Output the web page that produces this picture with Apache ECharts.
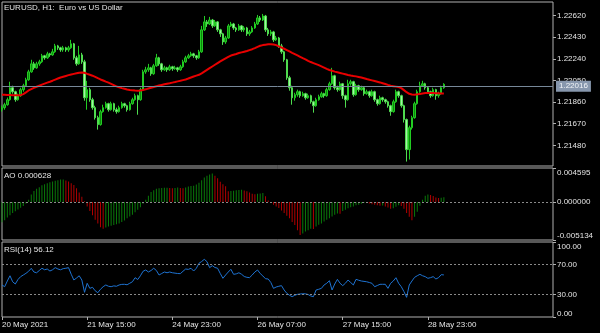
<!DOCTYPE html>
<html><head><meta charset="utf-8">
<script src="https://cdn.jsdelivr.net/npm/echarts@6/dist/echarts.min.js"></script>
<style>html,body{margin:0;padding:0;background:#000;}#c{width:600px;height:333px;}</style>
</head><body><div id="c"></div>
<script>
const symbolText = 'EURUSD, H1:  Euro vs US Dollar';
const opens = [
1.21793,1.21811,1.21837,1.21881,1.21986,1.21951,1.21881,1.21916,1.21969,1.22004,
1.22056,1.22126,1.22196,1.22161,1.22196,1.22214,1.22267,1.22249,1.22284,1.22275,
1.22302,1.22354,1.22337,1.22319,1.22337,1.22319,1.22337,1.22372,1.22249,1.22196,
1.22275,1.22214,1.21898,1.21969,1.21881,1.21811,1.21723,1.21662,1.21776,1.21811,
1.21846,1.21793,1.21846,1.21793,1.21776,1.21811,1.21846,1.21828,1.21793,1.21846,
1.21881,1.21916,1.21881,1.21969,1.22126,1.22144,1.22161,1.22109,1.22179,1.22249,
1.22196,1.22144,1.22161,1.22144,1.22170,1.22153,1.22161,1.22144,1.22170,1.22214,
1.22249,1.22267,1.22284,1.22267,1.22249,1.22302,1.22495,1.22565,1.22547,1.22582,
1.22530,1.22565,1.22495,1.22460,1.22389,1.22424,1.22530,1.22547,1.22512,1.22495,
1.22530,1.22495,1.22512,1.22460,1.22477,1.22512,1.22547,1.22600,1.22582,1.22617,
1.22495,1.22460,1.22477,1.22407,1.22424,1.22354,1.22302,1.22232,1.22074,1.21986,
1.21898,1.21925,1.21951,1.21916,1.21934,1.21898,1.21916,1.21863,1.21828,1.21881,
1.21907,1.21934,1.21916,1.21969,1.22021,1.22091,1.21986,1.21969,1.22021,1.21916,
1.21881,1.22021,1.22039,1.21925,1.22004,1.21969,1.21986,1.21934,1.21951,1.21916,
1.21951,1.21881,1.21846,1.21898,1.21881,1.21863,1.21828,1.21776,1.21863,1.21951,
1.21916,1.21828,1.21706,1.21442,1.21635,1.21723,1.21846,1.21951,1.22004,1.22021,
1.21986,1.21951,1.21916,1.21969,1.21916,1.21934,1.21986];
const highs = [
1.21830,1.21854,1.21900,1.22039,1.22004,1.21960,1.21934,1.21986,1.22021,1.22074,
1.22144,1.22232,1.22214,1.22214,1.22232,1.22284,1.22275,1.22302,1.22293,1.22328,
1.22372,1.22363,1.22346,1.22354,1.22346,1.22354,1.22407,1.22380,1.22267,1.22354,
1.22293,1.22232,1.22047,1.21986,1.21898,1.21828,1.21740,1.21793,1.21837,1.21863,
1.21854,1.21863,1.21854,1.21811,1.21828,1.21863,1.21854,1.21837,1.21863,1.21898,
1.21934,1.21925,1.21986,1.22144,1.22170,1.22196,1.22170,1.22196,1.22284,1.22258,
1.22205,1.22179,1.22170,1.22188,1.22179,1.22179,1.22170,1.22188,1.22232,1.22267,
1.22284,1.22302,1.22293,1.22275,1.22319,1.22530,1.22617,1.22582,1.22609,1.22591,
1.22582,1.22573,1.22504,1.22469,1.22442,1.22547,1.22565,1.22556,1.22521,1.22547,
1.22538,1.22528,1.22521,1.22495,1.22528,1.22565,1.22626,1.22617,1.22635,1.22626,
1.22512,1.22495,1.22486,1.22442,1.22433,1.22372,1.22311,1.22240,1.22091,1.22004,
1.21942,1.21969,1.21960,1.21951,1.21942,1.21934,1.21925,1.21872,1.21898,1.21925,
1.21951,1.21942,1.21986,1.22039,1.22161,1.22100,1.22004,1.22039,1.22028,1.21925,
1.22056,1.22056,1.22047,1.22021,1.22012,1.22004,1.21995,1.21969,1.21960,1.21969,
1.21960,1.21890,1.21916,1.21907,1.21890,1.21872,1.21837,1.21881,1.21969,1.21960,
1.21925,1.21837,1.21715,1.21653,1.21740,1.21863,1.21969,1.22039,1.22047,1.22030,
1.21995,1.21960,1.21986,1.21977,1.21951,1.22004,1.22026];
const lows = [
1.21776,1.21793,1.21828,1.21872,1.21934,1.21863,1.21872,1.21907,1.21951,1.21995,
1.22047,1.22118,1.22144,1.22153,1.22179,1.22205,1.22232,1.22240,1.22258,1.22267,
1.22293,1.22319,1.22302,1.22302,1.22302,1.22302,1.22328,1.22232,1.22179,1.22188,
1.22196,1.21872,1.21793,1.21863,1.21793,1.21706,1.21618,1.21653,1.21767,1.21802,
1.21776,1.21785,1.21776,1.21758,1.21767,1.21802,1.21811,1.21776,1.21785,1.21837,
1.21872,1.21749,1.21872,1.21960,1.22109,1.22126,1.22091,1.22100,1.22170,1.22179,
1.22126,1.22135,1.22126,1.22135,1.22135,1.22144,1.22126,1.22135,1.22161,1.22205,
1.22240,1.22258,1.22249,1.22232,1.22240,1.22293,1.22486,1.22521,1.22538,1.22512,
1.22521,1.22477,1.22433,1.22363,1.22372,1.22416,1.22521,1.22495,1.22477,1.22486,
1.22477,1.22477,1.22442,1.22442,1.22469,1.22504,1.22538,1.22565,1.22573,1.22477,
1.22442,1.22442,1.22389,1.22398,1.22337,1.22284,1.22214,1.22056,1.21960,1.21837,
1.21872,1.21907,1.21898,1.21907,1.21881,1.21889,1.21846,1.21767,1.21819,1.21872,
1.21898,1.21898,1.21907,1.21960,1.22012,1.21969,1.21951,1.21960,1.21889,1.21811,
1.21872,1.22004,1.21907,1.21916,1.21951,1.21960,1.21916,1.21925,1.21898,1.21907,
1.21863,1.21828,1.21837,1.21863,1.21846,1.21811,1.21740,1.21767,1.21854,1.21898,
1.21811,1.21680,1.21337,1.21355,1.21618,1.21714,1.21837,1.21942,1.21995,1.21969,
1.21934,1.21898,1.21907,1.21881,1.21898,1.21925,1.21977];
const closes = [
1.21811,1.21837,1.21881,1.21986,1.21951,1.21881,1.21916,1.21969,1.22004,1.22056,
1.22126,1.22196,1.22161,1.22196,1.22214,1.22267,1.22249,1.22284,1.22275,1.22302,
1.22354,1.22337,1.22319,1.22337,1.22319,1.22337,1.22372,1.22249,1.22196,1.22275,
1.22214,1.21898,1.21969,1.21881,1.21811,1.21723,1.21662,1.21776,1.21811,1.21846,
1.21793,1.21846,1.21793,1.21776,1.21811,1.21846,1.21828,1.21793,1.21846,1.21881,
1.21916,1.21881,1.21969,1.22126,1.22144,1.22161,1.22109,1.22179,1.22249,1.22196,
1.22144,1.22161,1.22144,1.22170,1.22153,1.22161,1.22144,1.22170,1.22214,1.22249,
1.22267,1.22284,1.22267,1.22249,1.22302,1.22495,1.22565,1.22547,1.22582,1.22530,
1.22565,1.22495,1.22460,1.22389,1.22424,1.22530,1.22547,1.22512,1.22495,1.22530,
1.22495,1.22512,1.22460,1.22477,1.22512,1.22547,1.22600,1.22582,1.22617,1.22495,
1.22460,1.22477,1.22407,1.22424,1.22354,1.22302,1.22232,1.22074,1.21986,1.21898,
1.21925,1.21951,1.21916,1.21934,1.21898,1.21916,1.21863,1.21828,1.21881,1.21907,
1.21934,1.21916,1.21969,1.22021,1.22091,1.21986,1.21969,1.22021,1.21916,1.21881,
1.22021,1.22039,1.21925,1.22004,1.21969,1.21986,1.21934,1.21951,1.21916,1.21951,
1.21881,1.21846,1.21898,1.21881,1.21863,1.21828,1.21776,1.21863,1.21951,1.21916,
1.21828,1.21706,1.21442,1.21635,1.21723,1.21846,1.21951,1.22004,1.22021,1.21986,
1.21951,1.21916,1.21969,1.21916,1.21934,1.21986,1.22016];
const maValues = [
1.21925,1.21924,1.21923,1.21922,1.21921,1.21920,1.21920,1.21921,1.21930,1.21945,
1.21962,1.21974,1.21985,1.21995,1.22004,1.22013,1.22022,1.22031,1.22039,1.22048,
1.22058,1.22067,1.22076,1.22083,1.22090,1.22097,1.22103,1.22108,1.22113,1.22118,
1.22120,1.22118,1.22108,1.22100,1.22092,1.22082,1.22070,1.22059,1.22050,1.22040,
1.22031,1.22020,1.22009,1.21998,1.21990,1.21983,1.21977,1.21970,1.21966,1.21963,
1.21961,1.21960,1.21962,1.21967,1.21972,1.21979,1.21986,1.21993,1.21999,1.22005,
1.22011,1.22017,1.22022,1.22026,1.22031,1.22036,1.22042,1.22047,1.22053,1.22059,
1.22067,1.22076,1.22085,1.22093,1.22100,1.22113,1.22128,1.22143,1.22158,1.22173,
1.22188,1.22203,1.22218,1.22232,1.22245,1.22258,1.22269,1.22276,1.22283,1.22291,
1.22297,1.22303,1.22309,1.22317,1.22325,1.22335,1.22346,1.22355,1.22361,1.22365,
1.22368,1.22369,1.22367,1.22361,1.22350,1.22340,1.22329,1.22317,1.22305,1.22293,
1.22282,1.22270,1.22258,1.22246,1.22235,1.22222,1.22212,1.22203,1.22194,1.22185,
1.22174,1.22163,1.22152,1.22142,1.22135,1.22128,1.22122,1.22116,1.22110,1.22104,
1.22098,1.22093,1.22089,1.22086,1.22081,1.22076,1.22070,1.22063,1.22057,1.22051,
1.22045,1.22039,1.22033,1.22026,1.22019,1.22011,1.22004,1.22000,1.21996,1.21992,
1.21983,1.21965,1.21947,1.21933,1.21927,1.21925,1.21928,1.21932,1.21936,1.21939,
1.21940,1.21940,1.21939,1.21938,1.21937,1.21936,1.21936];
const aoValues = [
-0.00275,-0.00245,-0.00210,-0.00180,-0.00150,-0.00125,-0.00100,-0.00078,-0.00055,-0.00020,
0.00030,0.00100,0.00150,0.00180,0.00200,0.00225,0.00240,0.00255,0.00267,0.00278,
0.00288,0.00295,0.00303,0.00305,0.00292,0.00278,0.00255,0.00230,0.00185,0.00130,
0.00070,0.00010,-0.00060,-0.00120,-0.00180,-0.00240,-0.00290,-0.00340,-0.00360,-0.00345,
-0.00330,-0.00320,-0.00310,-0.00300,-0.00290,-0.00270,-0.00250,-0.00220,-0.00195,-0.00173,
-0.00140,-0.00105,-0.00070,-0.00025,0.00030,0.00085,0.00135,0.00160,0.00180,0.00187,
0.00190,0.00192,0.00194,0.00190,0.00187,0.00190,0.00195,0.00190,0.00185,0.00195,
0.00210,0.00215,0.00220,0.00235,0.00260,0.00295,0.00330,0.00355,0.00372,0.00385,
0.00355,0.00320,0.00275,0.00240,0.00213,0.00145,0.00150,0.00152,0.00158,0.00162,
0.00167,0.00155,0.00145,0.00130,0.00113,0.00105,0.00110,0.00115,0.00120,0.00077,
0.00020,-0.00010,-0.00037,-0.00060,-0.00082,-0.00115,-0.00150,-0.00185,-0.00220,-0.00270,
-0.00310,-0.00380,-0.00445,-0.00425,-0.00400,-0.00380,-0.00360,-0.00365,-0.00330,-0.00309,
-0.00290,-0.00264,-0.00240,-0.00218,-0.00195,-0.00173,-0.00155,-0.00160,-0.00120,-0.00105,
-0.00085,-0.00072,-0.00060,-0.00045,-0.00037,-0.00025,-0.00014,-0.00012,-0.00020,-0.00030,
-0.00037,-0.00045,-0.00050,-0.00048,-0.00060,-0.00075,-0.00090,-0.00085,-0.00065,-0.00045,
-0.00055,-0.00090,-0.00150,-0.00200,-0.00245,-0.00200,-0.00130,-0.00050,0.00030,0.00085,
0.00100,0.00095,0.00080,0.00062,0.00055,0.00058,0.000628];
const rsiValues = [
42.7,40.4,48,55,47,44,50,53.8,56,58.2,
61,64.9,60,59,62,65,63,64,61.3,63,
65.8,64,63,64.5,65,65.8,57,49.3,52,55,
49.3,32.9,44.9,38.2,39.6,35,32.4,37,40.4,42.7,
41,40.4,41.5,41,42.7,43.5,43.6,43,45,47,
52.4,50,55,61,62.7,60,62,65,62,56,
58,60,59,60,59,58.5,58,57.8,61,64,
63.5,65,61.3,65,71.6,74,76.9,73.8,65.8,68.4,
66,65,58,51.6,56,60,63.6,56.9,57.5,59,
57,54,52.9,52.5,56,60,62.7,58,54.7,51,
50.7,46,38.2,40,41,41.8,36,31.6,29,27.1,
29,30.2,30.7,31,30.9,30,28,27.1,36,37,
38.2,42.7,45,48.4,36,44,50.2,45,41.8,45,
49.3,46,42.7,50.2,49,48,47.5,47,46,44.9,
40.4,42,43.6,43.6,43.6,38.2,44.9,48,52.4,45,
40.4,34,26.2,42.7,48,52.9,55,56.9,55,53.8,
51.6,52.5,53.8,50.7,52.4,56.4,56.12];
const priceTicks = [1.21480,1.21670,1.21860,1.22050,1.22240,1.22430,1.22620];
const aoTicks = [-0.005134,0,0.004595];
const rsiTicks = [0,30,70,100];
const rsiLevels = [30,70];
const timeLabelIndex = [0,32,64,96,128,160];
const timeLabels = ['20 May 2021','21 May 15:00','24 May 23:00','26 May 07:00','27 May 15:00','28 May 23:00'];
const lastPrice = 1.22016;
const totalSlots = 208;

const FONT = 'Liberation Sans';
const TXT = '#e4e4e4';
const FRAME = '#b0b0b0';
const cats = Array.from({length: totalSlots}, (_, i) => String(i));
const candleData = opens.map((o, i) => [o, closes[i], lows[i], highs[i]]);
const isTick = (i) => timeLabelIndex.indexOf(i) >= 0;

function xAxisFor(gi, show) {
  return {
    type: 'category', gridIndex: gi, data: cats, boundaryGap: false,
    axisLine: {show: false},
    axisTick: {show: show, interval: (i) => isTick(i), length: 3, lineStyle: {color: FRAME}},
    axisLabel: {show: show, interval: (i) => isTick(i), align: 'left', margin: 4,
      color: TXT, fontSize: 8, fontFamily: FONT,
      formatter: (v, i) => { const k = timeLabelIndex.indexOf(Number(v)); return k >= 0 ? timeLabels[k] : ''; }},
    splitLine: {show: false}
  };
}
function edgeLabel(fmt, lo, hi) {
  return (v) => {
    const s = fmt(v);
    if (Math.abs(v - hi) < 1e-9) return '{t|' + s + '}';
    if (Math.abs(v - lo) < 1e-9) return '{b|' + s + '}';
    return s;
  };
}
function yAxisFor(gi, min, max, ticks, fmt, padTop, padBot) {
  return {
    type: 'value', gridIndex: gi, position: 'right', min: min, max: max, scale: true,
    axisLine: {show: false},
    axisTick: {show: true, customValues: ticks, length: 3, lineStyle: {color: FRAME}},
    axisLabel: {customValues: ticks, margin: 4, color: TXT, fontSize: 8, fontFamily: FONT,
      formatter: edgeLabel(fmt, min, max),
      rich: {t: {padding: [padTop, 0, 0, 0], color: TXT, fontSize: 8, fontFamily: FONT},
             b: {padding: [0, 0, padBot, 0], color: TXT, fontSize: 8, fontFamily: FONT}}},
    splitLine: {show: false}
  };
}

const chart = echarts.init(document.getElementById('c'), null, {renderer: 'canvas'});
const gridBase = {left: 2, right: 47, show: true, borderColor: FRAME, borderWidth: 1, backgroundColor: 'transparent', outerBoundsMode: 'none', containLabel: false};
chart.setOption({
  animation: false,
  backgroundColor: '#000',
  grid: [
    Object.assign({top: 2, height: 164}, gridBase),
    Object.assign({top: 168, height: 72}, gridBase),
    Object.assign({top: 242, height: 75}, gridBase)
  ],
  xAxis: [xAxisFor(0, false), xAxisFor(1, false), xAxisFor(2, true)],
  yAxis: [
    yAxisFor(0, 1.21298, 1.22740, priceTicks, (v) => v.toFixed(5), 0, 0),
    yAxisFor(1, -0.005134, 0.004595, aoTicks, (v) => v.toFixed(6), 10, 8),
    yAxisFor(2, 0, 100, rsiTicks, (v) => v.toFixed(2), 9, 7)
  ],
  series: [
    {
      type: 'candlestick', xAxisIndex: 0, yAxisIndex: 0, data: candleData, barWidth: 2,
      itemStyle: {color: '#0c880c', color0: '#a6f2a6', borderColor: '#22cc22', borderColor0: '#4fdc4f', borderWidth: 1},
      markLine: {
        silent: true, symbol: 'none', animation: false,
        lineStyle: {color: '#778899', type: 'solid', width: 1},
        label: {show: true, position: 'end', distance: 3, formatter: lastPrice.toFixed(5),
          backgroundColor: '#8797ad', color: '#f2f5f8', padding: [2, 3, 1, 3], fontSize: 8, fontFamily: FONT},
        data: [{yAxis: lastPrice}]
      },
      z: 3
    },
    {
      type: 'line', xAxisIndex: 0, yAxisIndex: 0, data: maValues, showSymbol: false, symbol: 'none',
      lineStyle: {color: '#e80000', width: 2}, z: 4
    },
    {
      type: 'bar', xAxisIndex: 1, yAxisIndex: 1, data: aoValues, barWidth: 1,
      itemStyle: {color: (p) => (p.dataIndex === 0 || aoValues[p.dataIndex] >= aoValues[p.dataIndex - 1]) ? '#0a7a0a' : '#b00000'},
      markLine: {silent: true, symbol: 'none', animation: false, label: {show: false},
        lineStyle: {color: '#8a8a8a', type: [2, 2], width: 1}, data: [{yAxis: 0}]}
    },
    {
      type: 'line', xAxisIndex: 2, yAxisIndex: 2, data: rsiValues, showSymbol: false, symbol: 'none',
      lineStyle: {color: '#1e73d2', width: 1},
      markLine: {silent: true, symbol: 'none', animation: false, label: {show: false},
        lineStyle: {color: '#8a8a8a', type: [2, 2], width: 1}, data: rsiLevels.map((v) => ({yAxis: v}))}
    }
  ],
  graphic: [
    {type: 'text', x: 4, y: 7.5, style: {text: symbolText, fill: TXT, font: '8px "' + FONT + '"', verticalAlign: 'middle'}},
    {type: 'text', x: 4, y: 176, style: {text: 'AO ' + aoValues[aoValues.length - 1].toFixed(6), fill: TXT, font: '8px "' + FONT + '"', verticalAlign: 'middle'}},
    {type: 'text', x: 4, y: 250, style: {text: 'RSI(14) ' + rsiValues[rsiValues.length - 1].toFixed(2), fill: TXT, font: '8px "' + FONT + '"', verticalAlign: 'middle'}}
  ]
});
</script></body></html>
